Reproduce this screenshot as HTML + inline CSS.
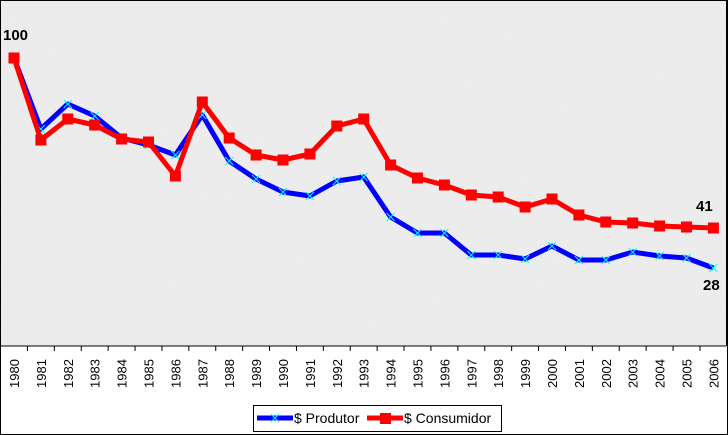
<!DOCTYPE html>
<html><head><meta charset="utf-8"><style>
html,body{margin:0;padding:0;background:#fff}
svg{display:block;font-family:"Liberation Sans",Arial,sans-serif}
</style></head><body>
<svg width="728" height="435" viewBox="0 0 728 435" xmlns="http://www.w3.org/2000/svg">
<defs>
<filter id="n" x="0" y="0" width="100%" height="100%">
<feTurbulence type="fractalNoise" baseFrequency="0.6" numOctaves="2" seed="3"/>
<feColorMatrix type="matrix" values="0 0 0 0 0.78  0 0 0 0 0.78  0 0 0 0 0.78  0 0 0 0.9 -0.25"/>
</filter>
</defs>
<rect x="0.5" y="0.5" width="727" height="434" fill="#fff" stroke="#000"/>
<rect x="1" y="1" width="725" height="345" fill="#ededed"/>
<rect x="1" y="1" width="725" height="345" filter="url(#n)" opacity="0.6"/>
<line x1="1" y1="346" x2="726" y2="346" stroke="#000"/>
<line x1="726.5" y1="1" x2="726.5" y2="346" stroke="#000"/>
<g stroke="#000" id="ticks"></g>
<g id="labels" font-size="13" fill="#000"></g>
<polyline id="blue" fill="none" stroke="#0000ff" stroke-width="5" stroke-linejoin="round"/>
<g id="bm" stroke="#00ffff" stroke-width="1"></g>
<polyline id="red" fill="none" stroke="#ff0000" stroke-width="5" stroke-linejoin="round"/>
<g id="rm" fill="#ff0000"></g>
<text x="3" y="40" font-size="15" font-weight="bold">100</text>
<text x="696" y="211" font-size="15" font-weight="bold">41</text>
<text x="703" y="290" font-size="15" font-weight="bold">28</text>
<rect x="253.5" y="405.5" width="248" height="26" fill="#fff" stroke="#000"/>
<line x1="257" y1="418" x2="293" y2="418" stroke="#0000ff" stroke-width="5"/>
<path d="M271 414l8 8M279 414l-8 8" stroke="#00ffff"/>
<text x="294" y="423" font-size="14">$ Produtor</text>
<line x1="367" y1="418" x2="403" y2="418" stroke="#ff0000" stroke-width="5"/>
<rect x="380" y="413" width="11" height="11" fill="#ff0000"/>
<text x="404" y="423" font-size="14">$ Consumidor</text>
<script>
var R=[58,140,119,125,139,142,176,102,138,155,160,154,126,119,165,178,185,195,197,207,199,215,222,223,226,227,228];
var B=[58,129,104,116,138,145,155,115,161,179,192,196,181,177,217,233,233,255,255,259,246,260,260,252,256,258,268];
var ns="http://www.w3.org/2000/svg";
function X(i){return 14+26.9*i;}
var rp="",bp="";
for(var i=0;i<27;i++){rp+=X(i)+","+R[i]+" ";bp+=X(i)+","+B[i]+" ";}
document.getElementById("red").setAttribute("points",rp);
document.getElementById("blue").setAttribute("points",bp);
var rm=document.getElementById("rm"),bm=document.getElementById("bm"),tk=document.getElementById("ticks"),lb=document.getElementById("labels");
for(var i=0;i<27;i++){
 var r=document.createElementNS(ns,"rect");r.setAttribute("x",X(i)-5.5);r.setAttribute("y",R[i]-5.5);r.setAttribute("width",11);r.setAttribute("height",11);rm.appendChild(r);
 var p=document.createElementNS(ns,"path");var x=X(i),y=B[i];p.setAttribute("d","M"+(x-4)+" "+(y-4)+"l8 8M"+(x+4)+" "+(y-4)+"l-8 8");bm.appendChild(p);
 if(i<26){var l=document.createElementNS(ns,"line");var tx=X(i)+13.45;l.setAttribute("x1",tx);l.setAttribute("x2",tx);l.setAttribute("y1",346);l.setAttribute("y2",351);tk.appendChild(l);}
 var t=document.createElementNS(ns,"text");t.setAttribute("transform","translate("+(X(i)+5)+",388) rotate(-90)");t.textContent=1980+i;lb.appendChild(t);
}
</script>
</svg>
</body></html>
